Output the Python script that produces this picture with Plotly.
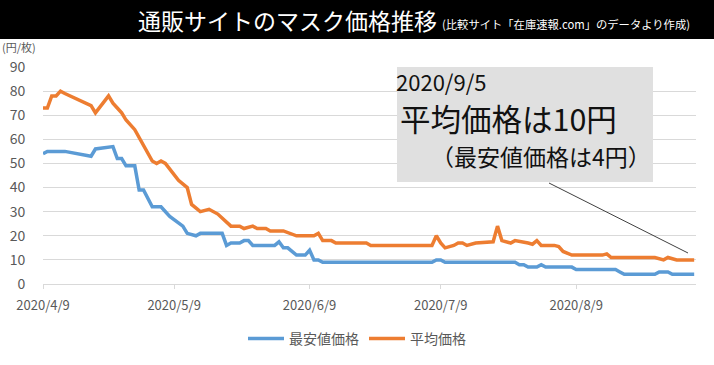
import datetime as dt
import plotly.graph_objects as go

BASE = dt.date(2020, 4, 9)

# 平均価格 (average price): day offset from 2020/4/9, value (円/枚)
avg_days = [0, 1, 2, 3, 4, 5, 11, 12, 15, 16, 17, 18, 19, 21, 25, 26, 27, 28, 31, 33, 34, 36, 38, 40, 43, 45,
            46, 48, 49, 51, 52, 55, 58, 62, 63, 64, 66, 67, 74, 75, 89, 90, 91, 92, 94, 95, 96, 97, 99, 103,
            104, 105, 107, 108, 111, 112, 113, 114, 117, 118, 119, 121, 128, 129, 130, 140, 142, 143, 145, 149]
avg_vals = [73, 73, 78, 78, 80, 79, 74, 71, 78, 75, 73, 71, 68, 64, 51, 50, 51, 50, 43, 40, 33, 30, 31, 29, 24, 24,
            23, 24, 23, 23, 22, 22, 20, 20, 21, 18, 18, 17, 17, 16, 16, 20, 17, 15, 16, 17, 17, 16, 17, 17.5,
            24, 18, 17, 18, 17, 16.5, 18, 16, 16, 15.5, 13.5, 12, 12, 12.5, 11, 11, 10, 11, 10, 10]

# 最安値価格 (lowest price)
min_days = [0, 1, 5, 11, 12, 14, 16, 17, 18, 19, 21, 22, 23, 25, 27, 29, 32, 33, 35, 36, 41, 42, 43, 45, 46, 47,
            48, 53, 54, 55, 56, 58, 60, 61, 62, 63, 64, 89, 90, 91, 92, 108, 109, 110, 111, 113, 114, 115, 121,
            122, 131, 132, 133, 140, 141, 143, 144, 149]
min_vals = [54, 55, 55, 53, 56, 56.5, 57, 52, 52, 49, 49, 39, 39, 32, 32, 28, 24, 21, 20, 21, 21, 16, 17, 17, 18, 18,
            16, 16, 17.5, 15, 15, 12, 12, 14, 10, 10, 9, 9, 10, 10, 9, 9, 8, 8, 7, 7, 8, 7, 7,
            6, 6, 5, 4, 4, 5, 5, 4, 4]

tick_dates = ["2020-04-09", "2020-05-09", "2020-06-09", "2020-07-09", "2020-08-09"]
tick_text = ["2020/4/9", "2020/5/9", "2020/6/9", "2020/7/9", "2020/8/9"]

avg_x = [BASE + dt.timedelta(days=d) for d in avg_days]
min_x = [BASE + dt.timedelta(days=d) for d in min_days]

BLUE = "#5B9BD5"
ORANGE = "#ED7D31"
GRAY = "#595959"
FONT = "Noto Sans CJK JP"

fig = go.Figure()
fig.add_trace(go.Scatter(x=min_x, y=min_vals, mode="lines", name="最安値価格",
                         line=dict(color=BLUE, width=3.5)))
fig.add_trace(go.Scatter(x=avg_x, y=avg_vals, mode="lines", name="平均価格",
                         line=dict(color=ORANGE, width=3.5)))

W, H = 714, 365
L, R, T, B = 43, 18, 67, 81
pw, ph = W - L - R, H - T - B


def px(xp):
    return (xp - L) / pw


def py(yp):
    return (H - B - yp) / ph


fig.update_layout(
    width=W, height=H,
    margin=dict(l=L, r=R, t=T, b=B, autoexpand=False),
    paper_bgcolor="white", plot_bgcolor="white",
    font=dict(family=FONT, color=GRAY),
    showlegend=True,
    legend=dict(orientation="h", xref="container", yref="container",
                x=357 / W, xanchor="center", y=(H - 339) / H, yanchor="middle",
                font=dict(size=14, color=GRAY, family=FONT), itemwidth=36, tracegroupgap=0),
    xaxis=dict(type="date", range=["2020-04-09", "2020-09-05 10:00"],
               tickvals=tick_dates, ticktext=tick_text,
               showgrid=False, showline=True, linecolor="#d9d9d9", linewidth=1,
               ticks="outside", ticklen=4, tickcolor="#d9d9d9", ticklabelstandoff=5,
               tickfont=dict(size=13, color=GRAY, family=FONT)),
    yaxis=dict(range=[0, 90], dtick=10, showgrid=True, gridcolor="#d9d9d9", gridwidth=1,
               zeroline=False, showline=False, ticks="outside", ticklen=14,
               tickcolor="rgba(0,0,0,0)",
               tickfont=dict(size=14, color=GRAY, family=FONT)),
    shapes=[
        dict(type="rect", xref="paper", yref="paper", x0=px(0), x1=px(W), y0=py(0), y1=py(39),
             fillcolor="black", line=dict(width=0), layer="above"),
        dict(type="rect", xref="paper", yref="paper", x0=px(397), x1=px(653), y0=py(67), y1=py(182),
             fillcolor="#e0e0e0", line=dict(width=0), layer="above"),
        dict(type="line", xref="paper", yref="paper", x0=px(549), x1=px(688), y0=py(183), y1=py(253),
             line=dict(color="#404040", width=1), layer="above"),
    ],
    annotations=[
        dict(xref="paper", yref="paper", x=px(136), y=py(20), xanchor="left", yanchor="middle",
             text="通販サイトのマスク価格推移", showarrow=False,
             font=dict(size=23, color="white", family=FONT)),
        dict(xref="paper", yref="paper", x=px(440), y=py(24), xanchor="left", yanchor="middle",
             text="(比較サイト「在庫速報.com」のデータより作成)", showarrow=False,
             font=dict(size=11.3, color="white", family=FONT)),
        dict(xref="paper", yref="paper", x=px(0), y=py(47), xanchor="left", yanchor="middle",
             text="(円/枚)", showarrow=False, font=dict(size=11, color=GRAY, family=FONT)),
        dict(xref="paper", yref="paper", x=px(395), y=py(81), xanchor="left", yanchor="middle",
             text="2020/9/5", showarrow=False, borderpad=0,
             font=dict(size=22, color="#111111", family=FONT)),
        dict(xref="paper", yref="paper", x=px(399), y=py(118), xanchor="left", yanchor="middle",
             text="平均価格は10円", showarrow=False, borderpad=0,
             font=dict(size=30.5, color="#111111", family=FONT)),
        dict(xref="paper", yref="paper", x=px(430), y=py(156), xanchor="left", yanchor="middle",
             text="（最安値価格は4円）", showarrow=False, borderpad=0,
             font=dict(size=23, color="#111111", family=FONT)),
    ],
)

fig.write_html("out.html", config={"displayModeBar": False},
               post_script="document.body.style.margin='0';document.body.style.overflow='hidden';")
